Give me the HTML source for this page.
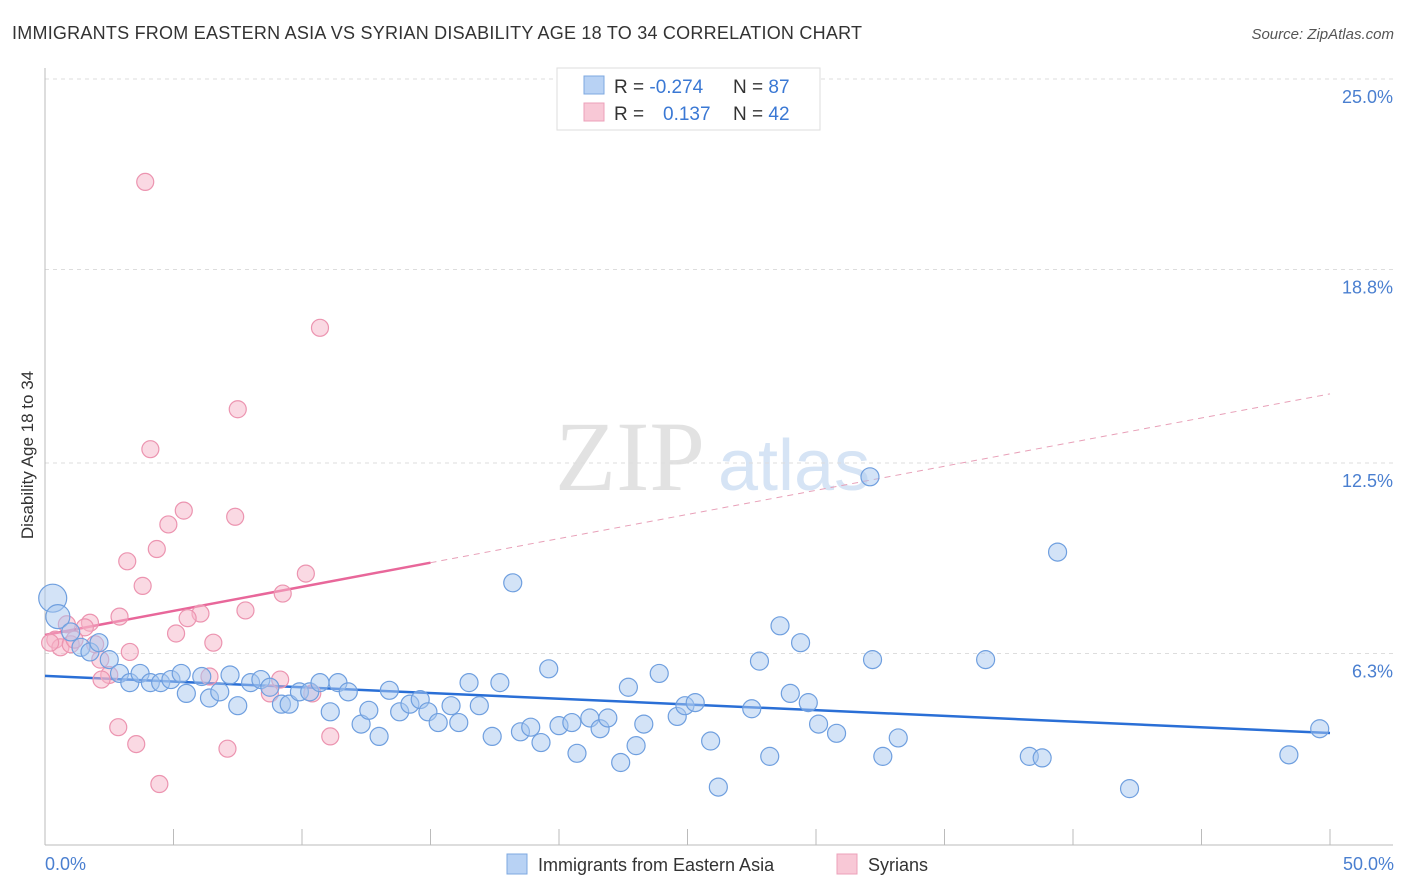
<!DOCTYPE html>
<html><head><meta charset="utf-8"><style>
html,body{margin:0;padding:0;background:#fff;width:1406px;height:892px;overflow:hidden;font-family:"Liberation Sans",sans-serif}
</style></head><body>
<svg id="chart" width="1406" height="892" xmlns="http://www.w3.org/2000/svg">
<text x="12" y="39" font-size="18" fill="#333" textLength="850">IMMIGRANTS FROM EASTERN ASIA VS SYRIAN DISABILITY AGE 18 TO 34 CORRELATION CHART</text>
<text x="1394" y="39" font-size="15" fill="#555" text-anchor="end" font-style="italic">Source: ZipAtlas.com</text>
<g>
<text x="555" y="490" font-size="100" fill="#e2e2e2" font-family="Liberation Serif,serif">ZIP</text>
<text x="718" y="490" font-size="72" fill="#d6e4f5">atlas</text>
</g>
<g id="grid"></g>
<g id="axes"></g>
<g id="trends"></g>
<g id="points"></g>
<text x="33" y="455" font-size="17" fill="#333" text-anchor="middle" transform="rotate(-90 33 455)">Disability Age 18 to 34</text>
<text x="45" y="870" font-size="18" fill="#4a7fd0">0.0%</text>
<text x="1394" y="870" font-size="18" fill="#4a7fd0" text-anchor="end">50.0%</text>
<g>
<rect x="557" y="68" width="263" height="62" fill="#fff" stroke="#ddd"/>
<rect x="584" y="76" width="20" height="18" fill="#b8d2f4" stroke="#7ea8e0"/>
<rect x="584" y="103" width="20" height="18" fill="#f8c8d6" stroke="#eca0ba"/>
<text x="614" y="93" font-size="19" fill="#333">R = <tspan fill="#3a78d4">-0.274</tspan><tspan x="733">N = </tspan><tspan fill="#3a78d4">87</tspan></text>
<text x="614" y="120" font-size="19" fill="#333">R = <tspan x="663" fill="#3a78d4">0.137</tspan><tspan x="733">N = </tspan><tspan fill="#3a78d4">42</tspan></text>
</g>
<g>
<rect x="507" y="854" width="20" height="20" fill="#b8d2f4" stroke="#7ea8e0"/>
<text x="538" y="871" font-size="18" fill="#333">Immigrants from Eastern Asia</text>
<rect x="837" y="854" width="20" height="20" fill="#f8c8d6" stroke="#eca0ba"/>
<text x="868" y="871" font-size="18" fill="#333">Syrians</text>
</g>
</svg>
<script>
const yTicks=[25.0,18.8,12.5,6.3];
const yTickLabels=["25.0%","18.8%","12.5%","6.3%"];
const xTicks=[0,5,10,15,20,25,30,35,40,45,50];
const blueX=[0.3,0.5,1.0,1.4,1.75,2.1,2.5,2.9,3.3,3.7,4.1,4.5,4.9,5.3,5.5,6.1,6.4,6.8,7.2,7.5,8.0,8.4,8.75,9.2,9.5,9.9,10.3,10.7,11.1,11.4,11.8,12.3,12.6,13.0,13.4,13.8,14.2,14.6,14.9,15.3,15.8,16.1,16.5,16.9,17.4,17.7,18.2,18.5,18.9,19.3,19.6,20.0,20.5,20.7,21.2,21.6,21.9,22.4,22.7,23.0,23.3,23.9,24.6,24.9,25.3,25.9,26.2,27.5,27.8,28.2,28.6,29.0,29.4,29.7,30.1,30.8,32.2,32.1,32.6,33.2,36.6,38.3,38.8,39.4,42.2,48.4,49.6];
const blueY=[8.1,7.5,7.0,6.5,6.35,6.65,6.1,5.65,5.35,5.65,5.35,5.35,5.45,5.65,5.0,5.55,4.85,5.05,5.6,4.6,5.35,5.45,5.2,4.65,4.65,5.05,5.05,5.35,4.4,5.35,5.05,4.0,4.45,3.6,5.1,4.4,4.65,4.8,4.4,4.05,4.6,4.05,5.35,4.6,3.6,5.35,8.6,3.75,3.9,3.4,5.8,3.95,4.05,3.05,4.2,3.85,4.2,2.75,5.2,3.3,4.0,5.65,4.25,4.6,4.7,3.45,1.95,4.5,6.05,2.95,7.2,5.0,6.65,4.7,4.0,3.7,6.1,12.05,2.95,3.55,6.1,2.95,2.9,9.6,1.9,3.0,3.85];
const pinkX=[3.9,10.7,7.5,4.1,5.4,7.4,4.8,4.35,3.2,10.15,3.8,9.25,7.8,6.05,5.55,2.9,1.75,1.55,5.1,6.55,0.85,0.4,0.6,1.0,0.2,1.95,3.3,2.5,2.2,6.4,9.15,8.75,10.4,2.85,3.55,7.1,11.1,4.45,1.15,2.15];
const pinkY=[21.65,16.9,14.25,12.95,10.95,10.75,10.5,9.7,9.3,8.9,8.5,8.25,7.7,7.6,7.45,7.5,7.3,7.15,6.95,6.65,7.25,6.75,6.5,6.6,6.65,6.6,6.35,5.6,5.45,5.55,5.45,5.0,5.0,3.9,3.35,3.2,3.6,2.05,6.75,6.1];
const blueTrend=[5.57,3.71];
const pinkTrend=[6.9,14.75];
const pinkSolidEnd=15;
const NS="http://www.w3.org/2000/svg";
const X0=45,X1=1330,Y0=847,Y25=79;
const xs=v=>X0+(X1-X0)*v/50;
const ys=v=>Y0-(Y0-Y25)*v/25;
function mk(tag,attrs,parent){const e=document.createElementNS(NS,tag);for(const k in attrs)e.setAttribute(k,attrs[k]);parent.appendChild(e);return e;}
const grid=document.getElementById('grid'),axes=document.getElementById('axes'),tr=document.getElementById('trends'),pts=document.getElementById('points');
yTicks.forEach((t,i)=>{
 const l=mk('line',{x1:45,x2:1393,y1:ys(t),y2:ys(t),stroke:'#ddd','stroke-dasharray':'4 4'},grid);
 
 
 const tx=mk('text',{x:1393,y:ys(t)+24,'font-size':18,fill:'#4a7fd0','text-anchor':'end'},grid);
 tx.textContent=yTickLabels[i];
 
 
});
const xa=mk('line',{x1:45,x2:1393,y1:845,y2:845,stroke:'#bbb'},axes);


const ya=mk('line',{x1:45,x2:45,y1:68,y2:845,stroke:'#bbb'},axes);


xTicks.forEach(t=>{
 const l=mk('line',{x1:xs(t),x2:xs(t),y1:829,y2:845,stroke:'#bbb'},axes);
 
 
});
function dot(x,y,fill,stroke,r){
 const c=mk('circle',{cx:xs(x),cy:ys(y),r:r,fill:fill,'fill-opacity':0.5,stroke:stroke,'stroke-width':1.2},pts);
 return c;
}
pinkX.forEach((x,i)=>{
 const c=dot(x,pinkY[i],'#f6b4c8','#ec94b0',8.5);
 
 
});
blueX.forEach((x,i)=>{
 const r=i===0?14:(i===1?12:9);
 const c=dot(x,blueY[i],'#a8c8f0','#6f9fdf',r);
 
 
});
const bl=mk('line',{x1:xs(0),y1:ys(blueTrend[0]),x2:xs(50),y2:ys(blueTrend[1]),stroke:'#2a6fd6','stroke-width':2.5},tr);


const pm=pinkTrend[0]+(pinkTrend[1]-pinkTrend[0])*pinkSolidEnd/50;
const pl=mk('line',{x1:xs(0),y1:ys(pinkTrend[0]),x2:xs(pinkSolidEnd),y2:ys(pm),stroke:'#e8679a','stroke-width':2.5},tr);


const pd=mk('line',{x1:xs(pinkSolidEnd),y1:ys(pm),x2:xs(50),y2:ys(pinkTrend[1]),stroke:'#e8a0b8','stroke-width':1,'stroke-dasharray':'6 5'},tr);


</script>
</body></html>
